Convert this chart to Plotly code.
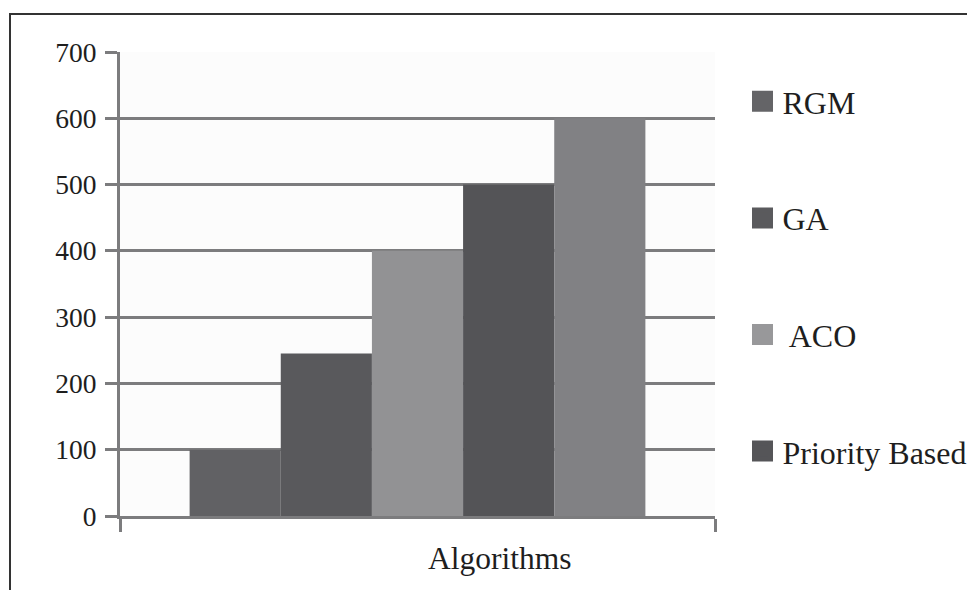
import plotly.graph_objects as go

# Data
category = ["Algorithms"]
series_names = ["RGM", "GA", "ACO", "Priority Based", ""]
series_values = [100, 245, 400, 500, 600]
bar_colors = ["#616164", "#59595c", "#929294", "#545457", "#818184"]
legend_names = ["RGM", "GA", " ACO", "Priority Based"]
legend_colors = ["#646467", "#5a5a5d", "#98989a", "#555558"]
y_ticks = [0, 100, 200, 300, 400, 500, 600, 700]

FONT = "Liberation Serif, Times New Roman, serif"
GRID = "#7c7c7e"
W, H = 975, 590
OFF = 8  # page body margin
# plot area in page pixels
PL, PR, PT, PB = 120, 715, 52, 516
L, T = PL - OFF, PT - OFF
R, B = W - (PR - OFF), H - (PB - OFF)
PW, PH = PR - PL, PB - PT


def px_x(p):
    return (p - PL) / PW


def px_y(p):
    return (PB - p) / PH


fig = go.Figure()
for name, val, col in zip(series_names, series_values, bar_colors):
    fig.add_trace(go.Bar(x=category, y=[val], name=name, marker=dict(color=col, line=dict(width=0)),
                         showlegend=False))

for i, (name, col) in enumerate(zip(legend_names, legend_colors)):
    fig.add_trace(go.Scatter(x=[None], y=[None], mode="markers", name=name, legendgroup=f"g{i}",
                             marker=dict(symbol="square", size=16, color=col, line=dict(color=col, width=5))))

fig.update_layout(
    width=W, height=H,
    margin=dict(l=L, r=R, t=T, b=B),
    paper_bgcolor="white", plot_bgcolor="#fcfcfc",
    barmode="group", bargap=0.234, bargroupgap=0,
    font=dict(family=FONT, color="#1e1e1e"),
    showlegend=True,
    legend=dict(x=px_x(742.5), xanchor="left", y=px_y(74), yanchor="top", tracegroupgap=72,
                font=dict(size=32, family=FONT, color="#1e1e1e"), bgcolor="rgba(0,0,0,0)"),
    xaxis=dict(showticklabels=False, tickson="boundaries", ticks="outside", ticklen=13, tickwidth=3,
               tickcolor=GRID, showline=True, linecolor=GRID, linewidth=3, showgrid=False,
               range=[-0.5, 0.5], fixedrange=True),
    yaxis=dict(range=[0, 700], tickvals=y_ticks, ticks="outside", ticklen=12, tickwidth=3, tickcolor=GRID,
               showline=True, linecolor=GRID, linewidth=3, showgrid=True, gridcolor=GRID, gridwidth=2.5,
               zeroline=False, tickfont=dict(size=27.5, family=FONT, color="#1e1e1e"), ticklabelstandoff=3),
    annotations=[dict(text="Algorithms", xref="paper", yref="paper", x=px_x(500), y=px_y(558),
                      showarrow=False, font=dict(size=31.5, family=FONT, color="#1e1e1e"),
                      xanchor="center", yanchor="middle")],
    shapes=[dict(type="rect", xref="paper", yref="paper", x0=px_x(10), x1=px_x(1100),
                 y0=px_y(700), y1=px_y(14), line=dict(color="#333333", width=2), layer="below")],
)

fig.write_html("out.html")
